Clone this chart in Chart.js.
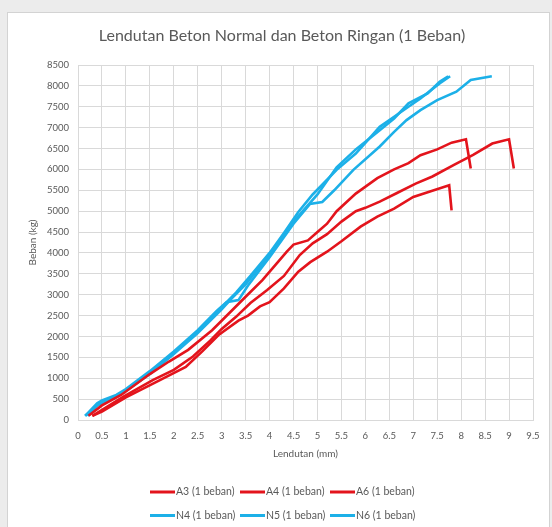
<!DOCTYPE html>
<html><head><meta charset="utf-8">
<script src="https://cdn.jsdelivr.net/npm/chart.js@4.4.1/dist/chart.umd.min.js"></script>
<style>
html,body{margin:0;padding:0;background:#ececec;width:552px;height:527px;overflow:hidden}
#box{position:absolute;left:7px;top:12px;width:541px;height:520px;background:#fff;border:1px solid #d3d3d3}
#c{position:absolute;left:0;top:0}
</style></head><body>
<div id="box"></div>
<canvas id="c" width="552" height="527"></canvas>
<script>
// ---- data (x = lendutan mm, y = beban kg) ----
const chartTitle = 'Lendutan Beton Normal dan Beton Ringan (1 Beban)';
const seriesLabels = ['A3 (1 beban)', 'A4 (1 beban)', 'A6 (1 beban)', 'N4 (1 beban)', 'N5 (1 beban)', 'N6 (1 beban)'];

const A3 = [[0.22,100],[0.5,350],[0.9,600],[1.5,1100],[1.9,1400],[2.3,1680],[2.8,2150],[3.15,2550],[3.5,2950],[3.85,3350],[4.15,3750],[4.36,4030],[4.5,4200],[4.8,4300],[5.0,4500],[5.2,4700],[5.4,5000],[5.8,5420],[6.25,5790],[6.6,6000],[6.9,6150],[7.15,6340],[7.5,6480],[7.8,6640],[8.1,6720],[8.2,6020]];
const A4 = [[0.3,100],[0.95,560],[1.57,960],[2.0,1200],[2.4,1520],[2.76,1900],[3.0,2180],[3.3,2470],[3.6,2800],[3.95,3110],[4.3,3450],[4.63,3950],[4.9,4230],[5.2,4450],[5.5,4750],[5.8,5000],[6.0,5080],[6.3,5230],[6.65,5430],[7.05,5660],[7.4,5830],[7.85,6110],[8.25,6350],[8.65,6620],[9.0,6720],[9.1,6020]];
const A6 = [[0.3,100],[0.5,200],[1.0,540],[1.7,950],[2.25,1270],[2.6,1650],[2.95,2050],[3.35,2380],[3.55,2500],[3.8,2720],[4.0,2820],[4.3,3150],[4.6,3550],[4.85,3780],[5.2,4030],[5.5,4280],[5.9,4630],[6.25,4870],[6.6,5060],[7.0,5340],[7.35,5470],[7.75,5620],[7.8,5020]];
const N4 = [[0.15,100],[0.35,300],[0.5,420],[0.75,540],[1.0,720],[1.5,1130],[2.0,1600],[2.5,2120],[3.0,2700],[3.3,3050],[3.6,3450],[4.0,4000],[4.3,4480],[4.6,4980],[4.9,5400],[5.4,5990],[5.8,6380],[6.3,7020],[6.6,7260],[6.9,7500],[7.15,7700],[7.55,8060],[7.77,8230]];
const N5 = [[0.2,100],[0.4,350],[0.6,460],[1.0,700],[1.5,1100],[2.0,1580],[2.5,2080],[3.0,2650],[3.2,2900],[3.5,3250],[4.0,3950],[4.5,4750],[5.0,5400],[5.4,6050],[5.8,6480],[6.3,6940],[6.6,7220],[6.9,7580],[7.3,7820],[7.55,8100],[7.73,8230]];
const N6 = [[0.15,100],[0.4,400],[0.5,470],[0.8,600],[1.0,740],[1.5,1170],[2.0,1640],[2.5,2150],[2.9,2620],[3.1,2820],[3.35,2870],[3.55,3220],[4.0,3900],[4.5,4700],[4.84,5170],[5.1,5220],[5.35,5500],[5.75,5990],[6.3,6550],[6.6,6900],[6.86,7180],[7.15,7420],[7.5,7660],[7.9,7860],[8.2,8140],[8.64,8230]];

const xTicks = [0,0.5,1,1.5,2,2.5,3,3.5,4,4.5,5,5.5,6,6.5,7,7.5,8,8.5,9,9.5];
const yTicks = [0,500,1000,1500,2000,2500,3000,3500,4000,4500,5000,5500,6000,6500,7000,7500,8000,8500];

const RED = '#e3141c', BLUE = '#1cb0e8';
const allSeries = [A3, A4, A6, N4, N5, N6];
const colors = [RED, RED, RED, BLUE, BLUE, BLUE];
const TXT = '#595959';
const FONT = 'Lato';

const datasets = allSeries.map((s, i) => ({
  label: seriesLabels[i],
  data: s.map(p => ({x: p[0], y: p[1]})),
  borderColor: colors[i], backgroundColor: colors[i],
  borderWidth: 2.6, pointRadius: 0, tension: 0, fill: false
}));

const decorPlugin = {
  id: 'decor',
  afterDraw(chart) {
    const ctx = chart.ctx;
    ctx.save();
    // title
    ctx.font = '16px ' + FONT;
    ctx.fillStyle = TXT; ctx.textAlign = 'center'; ctx.textBaseline = 'middle';
    ctx.fillText(chartTitle, 282, 36);
    // legend, two rows
    ctx.font = '10.5px ' + FONT;
    ctx.textAlign = 'left';
    chart.data.datasets.forEach((d, i) => {
      const row = Math.floor(i / 3), col = i % 3;
      const x0 = 150 + col * 90, y = 492 + row * 23.5;
      ctx.strokeStyle = d.borderColor; ctx.lineWidth = 3;
      ctx.beginPath(); ctx.moveTo(x0, y); ctx.lineTo(x0 + 25, y); ctx.stroke();
      ctx.fillStyle = TXT;
      ctx.fillText(d.label, x0 + 26, y);
    });
    ctx.restore();
  }
};

new Chart(document.getElementById('c'), {
  type: 'line',
  data: { datasets },
  plugins: [decorPlugin],
  options: {
    responsive: false, animation: false, devicePixelRatio: 1,
    layout: { padding: { left: 0, right: 19, top: 65, bottom: 62 } },
    plugins: {
      legend: { display: false },
      tooltip: { enabled: false },
      title: { display: false }
    },
    scales: {
      x: { type: 'linear', min: 0, max: 9.5,
        afterBuildTicks: s => { s.ticks = xTicks.map(v => ({value: v})); },
        afterFit: s => { s.height = 45; },
        grid: { color: '#d9d9d9', lineWidth: 1, drawTicks: false },
        border: { color: '#d9d9d9' },
        ticks: { color: TXT, font: { family: FONT, size: 9.5 }, padding: 10, maxRotation: 0, autoSkip: false,
          callback: v => String(v) },
        title: { display: true, text: 'Lendutan (mm)', color: TXT, font: { family: FONT, size: 10 }, padding: { top: 0, bottom: 5 } }
      },
      y: { type: 'linear', min: 0, max: 8500,
        afterBuildTicks: s => { s.ticks = yTicks.map(v => ({value: v})); },
        afterFit: s => { s.width = 78; },
        grid: { color: '#d9d9d9', lineWidth: 1, drawTicks: false },
        border: { color: '#d9d9d9' },
        ticks: { color: TXT, font: { family: FONT, size: 9.5 }, padding: 9, autoSkip: false,
          callback: v => String(v) },
        title: { display: true, text: 'Beban (kg)', color: TXT, font: { family: FONT, size: 10 }, padding: { top: 27, bottom: 0 } }
      }
    }
  }
});
</script>
</body></html>
